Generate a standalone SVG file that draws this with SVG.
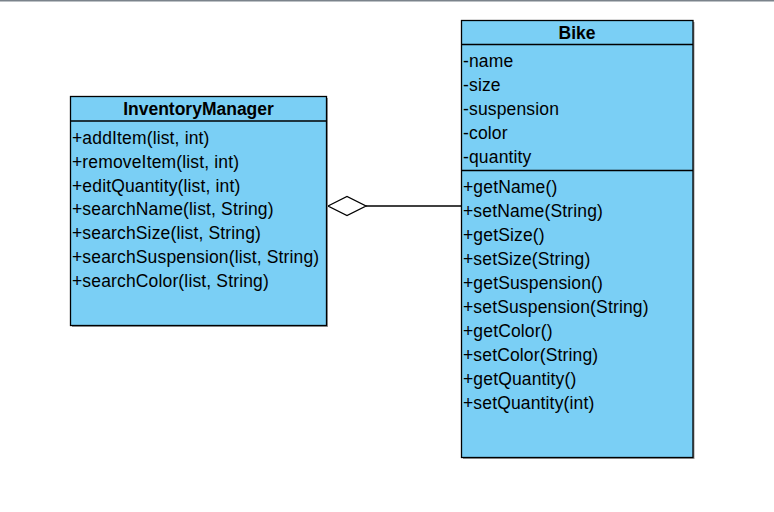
<svg xmlns="http://www.w3.org/2000/svg" width="774" height="512" viewBox="0 0 774 512">
<style>
.box{fill:#7acff5;stroke:#000;stroke-width:1.3}
.shadow{fill:#9a9a9a}
.div{stroke:#000;stroke-width:1.3}
.t{font-family:"Liberation Sans",Arial,sans-serif;font-size:17.5px;letter-spacing:0.15px;fill:#000}
.h{font-family:"Liberation Sans",Arial,sans-serif;font-size:17.5px;font-weight:bold;fill:#000;text-anchor:middle}
</style>
<rect x="0" y="0" width="774" height="512" fill="#fff"/>
<rect x="0" y="0" width="774" height="1.5" fill="#7b838b"/>
<g id="connectors">
<line x1="366" y1="206" x2="461.5" y2="206" stroke="#000" stroke-width="1.3"/>
<polygon points="328,206 347,196.5 366,206 347,215.5" fill="#fff" stroke="#000" stroke-width="1.3"/>
</g>
<g id="InventoryManager">
<rect class="shadow" x="72" y="98" width="256" height="229"/>
<rect class="box" x="70.5" y="96.5" width="256" height="229"/>
<line class="div" x1="70.5" y1="121" x2="326.5" y2="121"/>
<text class="h" x="198.5" y="115">InventoryManager</text>
<text class="t" x="72" y="144">+addItem(list, int)</text>
<text class="t" x="72" y="167.8">+removeItem(list, int)</text>
<text class="t" x="72" y="191.6">+editQuantity(list, int)</text>
<text class="t" x="72" y="215.4">+searchName(list, String)</text>
<text class="t" x="72" y="239.2">+searchSize(list, String)</text>
<text class="t" x="72" y="263">+searchSuspension(list, String)</text>
<text class="t" x="72" y="286.8">+searchColor(list, String)</text>
</g>
<g id="Bike">
<rect class="shadow" x="463" y="22" width="231.5" height="437"/>
<rect class="box" x="461.5" y="20.5" width="231.5" height="437"/>
<line class="div" x1="461.5" y1="44.5" x2="693" y2="44.5"/>
<line class="div" x1="461.5" y1="170.5" x2="693" y2="170.5"/>
<text class="h" x="577" y="38.5">Bike</text>
<text class="t" x="463" y="66.7">-name</text>
<text class="t" x="463" y="90.7">-size</text>
<text class="t" x="463" y="114.7">-suspension</text>
<text class="t" x="463" y="138.7">-color</text>
<text class="t" x="463" y="162.7">-quantity</text>
<text class="t" x="463" y="193.3">+getName()</text>
<text class="t" x="463" y="217.3">+setName(String)</text>
<text class="t" x="463" y="241.3">+getSize()</text>
<text class="t" x="463" y="265.3">+setSize(String)</text>
<text class="t" x="463" y="289.3">+getSuspension()</text>
<text class="t" x="463" y="313.3">+setSuspension(String)</text>
<text class="t" x="463" y="337.3">+getColor()</text>
<text class="t" x="463" y="361.3">+setColor(String)</text>
<text class="t" x="463" y="385.3">+getQuantity()</text>
<text class="t" x="463" y="409.3">+setQuantity(int)</text>
</g>
</svg>
